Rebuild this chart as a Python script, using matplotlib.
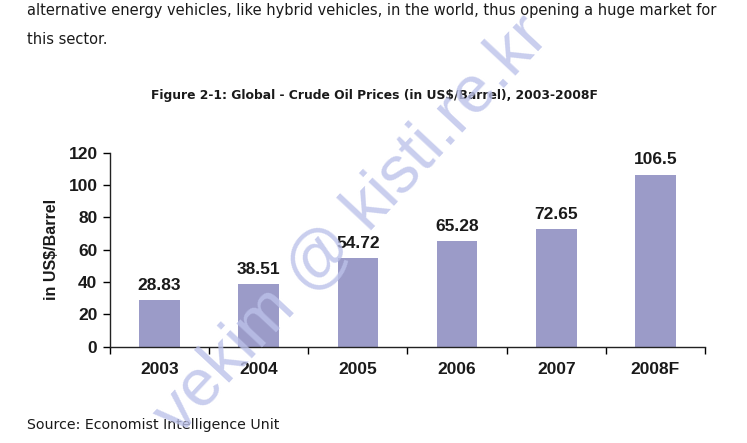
import matplotlib
matplotlib.use('Agg')
import matplotlib.pyplot as plt
import numpy as np

# 数据
years = ['2003', '2004', '2005', '2006', '2007', '2008F']
prices = [28.83, 38.51, 54.72, 65.28, 72.65, 106.5]
price_labels = ['28.83', '38.51', '54.72', '65.28', '72.65', '106.5']
y_ticks = [0, 20, 40, 60, 80, 100, 120]

body_lines = [
    'alternative energy vehicles, like hybrid vehicles, in the world, thus opening a huge market for',
    'this sector.',
]
title = 'Figure 2-1: Global - Crude Oil Prices (in US$/Barrel), 2003-2008F'
source = 'Source: Economist Intelligence Unit'
watermark = 'vekim @ kisti.re.kr'

BAR_COLOR = '#9b9bc8'
TXT = '#1a1a1a'
W, H = 747, 443

fig = plt.figure(figsize=(W / 100, H / 100), dpi=100)
fig.patch.set_facecolor('white')

# 正文与标题
fig.text(27 / W, 1 - 11 / H, body_lines[0], fontsize=10.55, family='DejaVu Sans',
         ha='left', va='center', color=TXT)
fig.text(27 / W, 1 - 40 / H, body_lines[1], fontsize=10.55, family='DejaVu Sans',
         ha='left', va='center', color=TXT)
fig.text(374 / W, 1 - 95 / H, title, fontsize=8.9, family='DejaVu Sans',
         weight='bold', ha='center', va='center', color=TXT)
fig.text(27 / W, 1 - 425 / H, source, fontsize=10.2, family='DejaVu Sans',
         ha='left', va='center', color=TXT)

# 图表区域
ax = fig.add_axes([110 / W, 1 - 346.7 / H, (705 - 110) / W, (346.7 - 152.7) / H])
x = np.arange(len(years))
ax.bar(x, prices, width=0.41, color=BAR_COLOR, zorder=2)
for xi, v, lab in zip(x, prices, price_labels):
    ax.text(xi, v + 4.5, lab, ha='center', va='bottom', fontsize=12.5,
            weight='bold', family='Liberation Sans', color=TXT)

ax.set_xlim(-0.5, len(years) - 0.5)
ax.set_ylim(0, 120)
ax.set_yticks(y_ticks)
ax.set_yticklabels([str(t) for t in y_ticks], fontsize=12.5, weight='bold',
                   family='Liberation Sans', color=TXT)
ax.set_xticks(x)
ax.set_xticklabels(years, fontsize=12.5, weight='bold', family='Liberation Sans',
                   color=TXT)
ax.tick_params(axis='x', length=0, pad=11)
ax.set_xticks(np.arange(len(years) + 1) - 0.5, minor=True)
ax.tick_params(axis='x', which='minor', length=5, width=1, direction='out')
ax.tick_params(axis='y', length=5, width=1, direction='out', pad=4)
ax.set_ylabel('in US$/Barrel', fontsize=11.5, weight='bold', family='Liberation Sans',
              color=TXT, labelpad=7)
for s in ['top', 'right']:
    ax.spines[s].set_visible(False)
for s in ['left', 'bottom']:
    ax.spines[s].set_linewidth(1)
    ax.spines[s].set_color('#222222')

# 水印
fig.text(352 / W, 1 - 226 / H, watermark, fontsize=48, family='Liberation Sans',
         rotation=47, rotation_mode='anchor', ha='center', va='center',
         color='#bcc2ea', alpha=0.8, zorder=10)

plt.savefig('out.png', dpi=100)
plt.close()
